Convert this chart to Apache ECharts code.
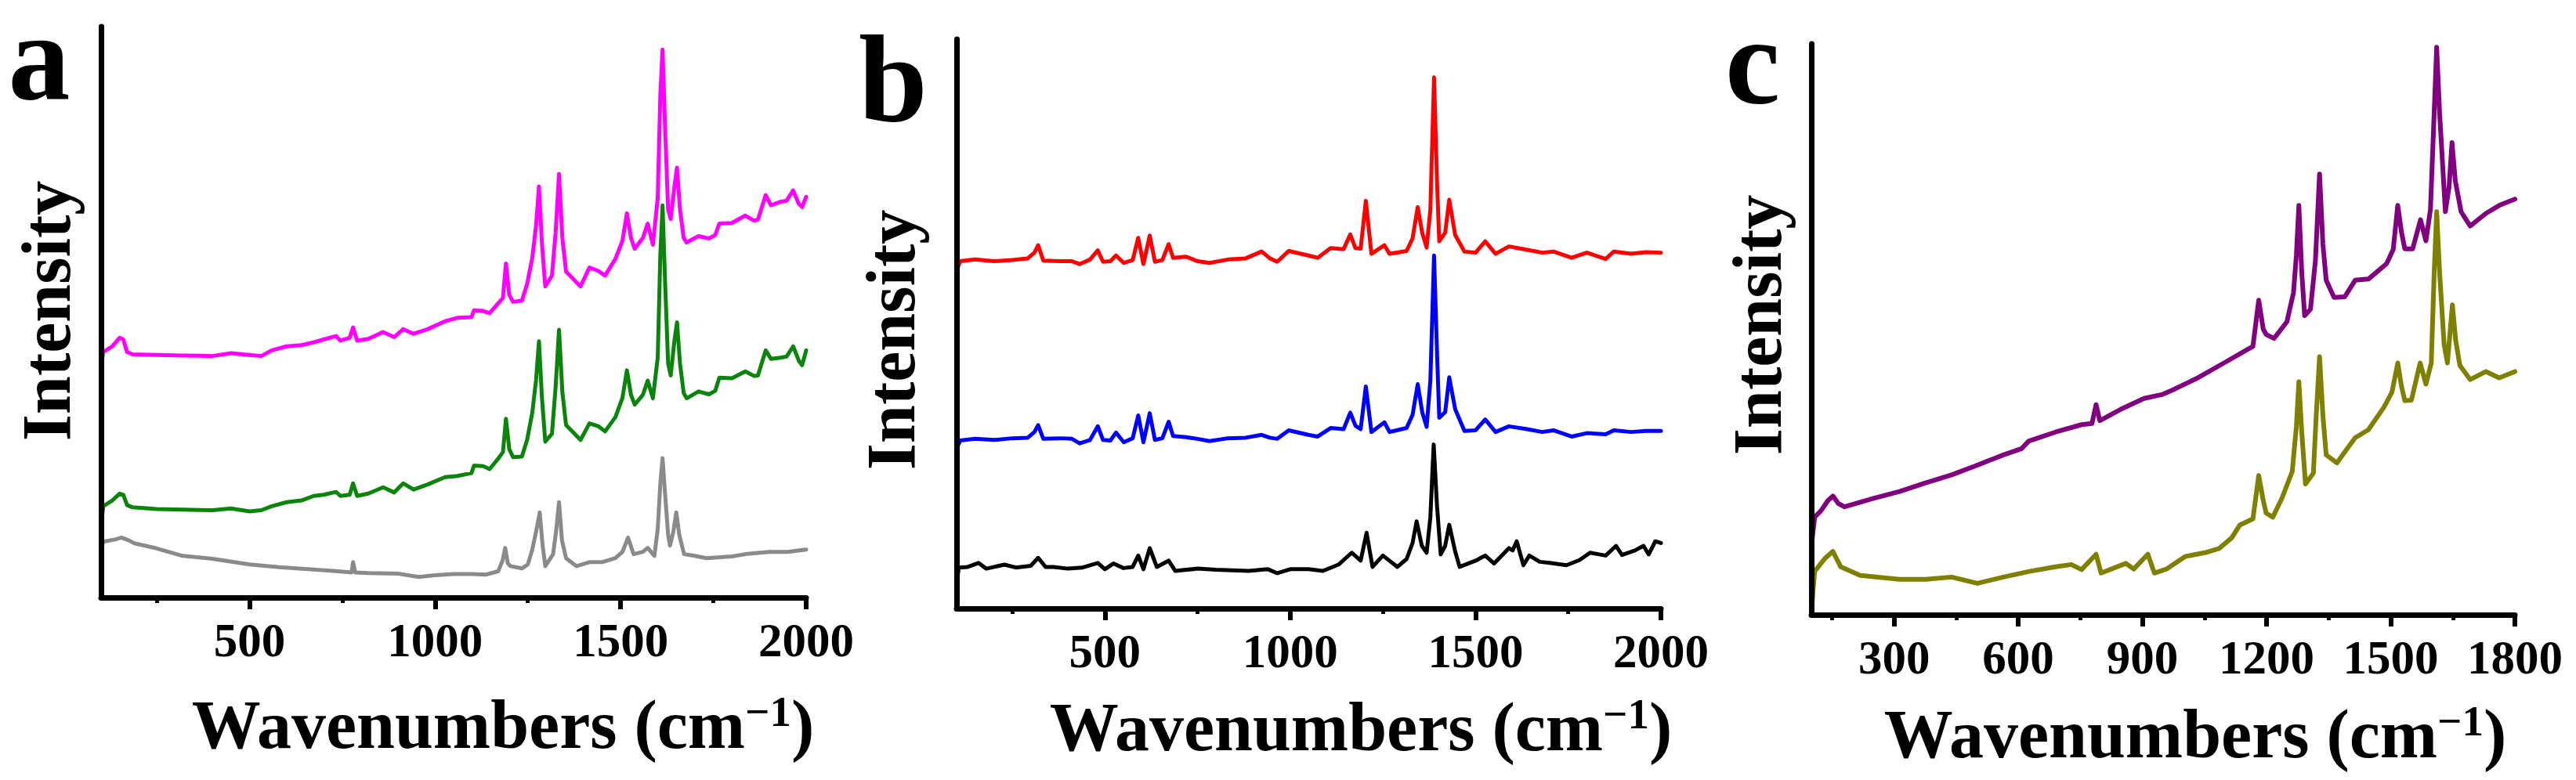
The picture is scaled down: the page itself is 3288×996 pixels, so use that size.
<!DOCTYPE html>
<html><head><meta charset="utf-8">
<script src="https://cdn.jsdelivr.net/npm/echarts@6/dist/echarts.min.js"></script>
<style>html,body{margin:0;padding:0;background:#fff}#c{width:3288px;height:996px}</style>
</head><body><div id="c"></div>
<script>
// ---------- Panel a ----------
const aX = [100,106,130,150,160,170,185,250,320,400,450,500,532,560,600,640,673,700,733,745,770,779,790,820,860,890,914,942,980,1027,1060,1098,1105,1130,1147,1171,1183,1191,1200,1210,1234,1248,1262,1272,1280,1288,1297,1315,1325,1334,1343,1353,1392,1416,1440,1458,1486,1505,1517,1528,1538,1560,1573,1587,1600,1607,1613,1620,1628,1635,1645,1652,1660,1670,1678,1710,1738,1755,1766,1800,1836,1860,1870,1891,1905,1930,1947,1965,1980,1989,2000];
const aMagenta = [40.4,43.0,44.0,45.5,45.2,43.0,42.6,42.5,42.4,42.3,42.8,42.5,42.3,43.3,44.0,44.2,44.7,45.2,45.8,45.0,45.5,47.3,45.0,45.3,46.5,45.6,47.0,46.2,47.0,48.4,49.0,49.1,50.3,50.2,49.8,51.6,52.5,58.5,53.0,51.8,52.0,54.9,59.5,65.0,72.0,62.0,54.5,56.4,64.0,74.2,63.0,57.1,54.5,57.8,57.2,56.4,59.3,62.5,67.3,63.0,61.1,63.0,65.5,61.8,70.0,88.0,96.0,82.0,68.0,66.3,72.0,75.3,68.0,63.0,62.2,63.3,62.9,63.5,65.5,65.6,66.9,66.0,66.2,70.5,68.7,69.3,69.5,71.3,69.0,68.4,70.2];
const aGreen = [12.7,16.0,17.0,18.2,18.0,16.2,15.8,15.5,15.4,15.3,15.6,15.1,15.3,16.0,16.7,17.0,17.8,18.0,18.5,17.8,18.0,20.0,17.8,18.2,19.3,18.4,20.0,18.9,19.8,21.1,21.3,21.8,23.1,23.0,22.5,24.4,25.5,31.3,26.0,24.6,24.7,27.6,32.4,38.0,44.9,35.0,27.3,28.7,37.0,46.9,36.0,30.2,27.6,30.5,30.0,29.1,31.6,35.0,39.8,35.5,33.8,35.5,38.0,34.9,42.0,60.0,68.7,55.0,41.0,38.9,45.0,48.2,41.0,35.8,34.9,36.1,35.6,36.2,38.5,38.4,39.6,38.8,38.9,43.3,41.8,42.0,42.2,44.0,41.5,40.7,43.3];
const aGrayX = [100,108,140,155,175,190,250,320,400,500,580,673,740,775,779,785,820,900,956,1000,1050,1098,1136,1170,1182,1189,1196,1203,1234,1250,1262,1272,1282,1290,1297,1318,1326,1334,1342,1353,1381,1416,1450,1486,1505,1520,1535,1560,1573,1591,1600,1607,1613,1620,1628,1633,1642,1650,1658,1671,1700,1731,1800,1836,1900,1950,2000];
const aGray = [9.1,9.8,10.2,10.5,10.0,9.5,8.6,7.3,6.8,5.8,5.3,4.9,4.6,4.4,6.2,4.4,4.3,4.2,3.6,3.9,4.1,4.1,4.0,4.6,6.5,8.7,6.0,5.5,5.1,5.8,8.4,11.5,14.9,9.0,5.5,7.6,11.5,16.7,10.0,6.9,5.5,6.2,6.2,6.9,8.0,10.5,7.6,8.0,8.7,7.3,12.0,20.0,24.4,18.0,11.0,9.1,11.5,14.9,11.0,7.6,7.3,6.9,7.2,7.6,8.0,8.0,8.4];

// ---------- Panel b ----------
const bX = [100,110,150,200,250,292,310,320,334,380,411,432,460,481,495,515,530,551,575,590,604,621,635,655,672,684,719,750,782,832,880,923,945,965,996,1049,1074,1109,1144,1162,1176,1190,1204,1219,1254,1268,1314,1330,1344,1356,1368,1378,1388,1396,1402,1418,1429,1445,1470,1500,1526,1554,1590,1639,1680,1710,1759,1800,1851,1873,1920,1960,2000];
const bRed = [59.4,61.0,61.3,61.0,61.2,61.5,62.5,63.8,61.1,61.0,61.0,60.5,61.3,62.9,60.9,61.0,62.0,60.7,61.2,65.1,60.5,65.5,60.9,61.2,64.0,61.6,61.8,61.0,60.7,61.3,61.5,62.7,61.5,60.9,62.8,62.0,61.6,63.3,63.1,65.7,63.3,63.2,71.6,62.3,63.8,62.3,62.8,65.0,70.5,66.0,63.4,70.0,93.3,75.0,64.5,66.0,71.8,65.6,62.7,62.5,64.5,62.3,63.6,63.0,62.5,62.7,61.6,62.5,61.4,62.7,62.3,62.6,62.5];
const bBlue = [28.1,29.5,29.8,29.6,29.9,30.0,31.0,32.2,29.8,29.9,29.8,29.0,29.6,32.0,29.6,29.5,30.9,29.2,29.9,33.9,29.2,34.3,29.6,29.9,32.8,30.3,30.1,29.8,29.4,29.9,30.0,30.5,30.0,29.8,31.3,30.5,30.2,31.7,31.5,34.4,32.1,31.5,39.0,31.0,32.7,31.0,31.7,34.0,39.4,34.5,31.9,40.0,62.0,45.0,33.5,34.5,40.6,35.0,31.2,31.3,33.2,31.0,32.0,31.5,31.0,31.3,30.2,30.8,30.6,31.3,31.0,31.2,31.2];
const bBlackX = [100,106,130,159,180,229,260,300,320,340,362,400,440,481,500,523,550,575,590,604,621,640,672,690,750,800,888,940,965,1000,1049,1088,1130,1166,1190,1206,1222,1250,1289,1314,1330,1341,1355,1368,1378,1387,1396,1406,1418,1429,1445,1457,1500,1526,1550,1590,1600,1611,1629,1645,1673,1700,1745,1780,1809,1851,1879,1895,1930,1953,1967,1985,2000];
const bBlack = [4.5,7.2,7.3,8.0,7.0,7.7,7.2,7.5,8.9,7.3,7.3,7.0,7.2,8.0,6.9,7.9,7.1,7.3,9.3,6.9,10.6,7.3,8.4,6.6,7.0,6.8,6.6,6.9,6.2,6.9,6.9,6.6,7.7,9.8,8.4,13.3,7.3,9.3,7.3,8.7,11.5,15.3,11.0,9.8,16.0,28.8,18.0,9.5,11.0,14.7,10.0,7.3,8.4,9.3,7.9,10.6,10.2,11.8,7.6,9.3,8.2,8.0,7.6,8.5,9.8,9.3,11.0,9.4,10.2,11.0,9.5,11.8,11.5];

// ---------- Panel c ----------
const cPurpleX = [100,108,123,140,152,165,180,250,313,376,439,501,564,608,625,633,690,753,778,788,797,848,904,949,971,1034,1097,1150,1167,1181,1192,1199,1218,1249,1265,1272,1278,1285,1292,1306,1318,1328,1336,1344,1363,1389,1414,1446,1490,1506,1517,1526,1534,1553,1572,1585,1596,1605,1611,1618,1632,1641,1648,1656,1670,1692,1730,1762,1800];
const cPurple = [12.0,17.1,18.2,20.0,20.8,19.5,18.9,20.4,21.6,23.1,24.5,26.2,28.0,29.1,30.4,30.6,32.0,33.3,33.5,36.8,34.0,36.0,37.9,38.6,39.3,41.5,44.1,46.3,47.0,55.1,50.0,49.1,48.4,51.3,56.4,63.0,71.7,60.0,52.4,53.5,62.0,77.2,65.0,58.6,55.6,55.7,58.6,58.8,61.5,64.0,71.7,67.0,64.1,64.1,69.2,65.5,71.0,88.0,99.4,88.0,70.6,75.0,82.7,76.0,70.6,68.1,70.3,71.7,72.8];
const cOliveX = [100,108,132,152,171,218,313,376,439,501,564,627,690,728,753,788,800,860,879,913,929,958,1003,1053,1085,1116,1135,1167,1181,1192,1199,1215,1237,1262,1272,1278,1285,1294,1313,1320,1328,1336,1344,1370,1395,1414,1446,1484,1503,1517,1526,1534,1550,1571,1585,1598,1605,1611,1618,1629,1637,1649,1657,1667,1692,1730,1762,1800];
const cOlive = [0.5,7.6,9.8,11.1,8.4,6.9,6.2,6.2,6.6,5.5,6.6,7.6,8.4,8.8,7.9,10.6,7.3,9.0,8.0,10.6,7.3,8.0,10.2,10.9,11.6,13.5,15.7,16.8,24.4,20.0,17.8,17.1,20.4,25.1,33.0,40.8,32.0,22.9,24.8,35.0,45.2,35.0,28.0,26.6,29.1,31.0,32.4,36.4,39.0,44.1,40.0,37.5,37.6,44.1,40.4,44.1,60.0,70.6,60.0,47.3,44.1,54.3,48.0,43.7,41.2,42.6,41.5,42.6];

// ---------- Ticks & labels ----------
const majorAB = [500,1000,1500,2000];
const minorAB = [250,750,1250,1750];
const majorC = [300,600,900,1200,1500,1800];
const minorC = [150,450,750,1050,1350,1650];
const panelLetters = ['a','b','c'];
const yTitle = 'Intensity';
const xTitleMain = 'Wavenumbers (cm';
const xTitleSup = '\u22121';

const FONT = '"Liberation Serif","Times New Roman",serif';
const chart = echarts.init(document.getElementById('c'), null, {renderer:'svg'});

const grids = [
  {left:129, top:34, width:900, height:729},
  {left:1221, top:50, width:899, height:727},
  {left:2312, top:56, width:898, height:729}
];
const xMax = [2000,2000,1800];
const majors = [majorAB, majorAB, majorC];
const minors = [minorAB, minorAB, minorC];

function pairs(xs, ys){ return xs.map((x,i)=>[x, ys[i]]); }

const xAxes = [], yAxes = [];
for (let i=0;i<3;i++){
  xAxes.push({gridIndex:i, type:'value', min:100, max:xMax[i], position:'bottom', z:5,
    axisLine:{show:true, onZero:false, lineStyle:{color:'#000', width:7}},
    axisTick:{show:true, customValues:majors[i], length:15, lineStyle:{color:'#000', width:6}},
    axisLabel:{show:true, customValues:majors[i], margin:24, color:'#000', fontFamily:FONT, fontWeight:'bold', fontSize:61,
      formatter:function(v){ return String(Math.round(v)); }},
    splitLine:{show:false}});
  yAxes.push({gridIndex:i, type:'value', min:0, max:100, z:5,
    axisLine:{show:true, onZero:false, lineStyle:{color:'#000', width:7}},
    axisTick:{show:false}, axisLabel:{show:false}, splitLine:{show:false}});
}
for (let i=0;i<3;i++){
  xAxes.push({gridIndex:i, type:'value', min:100, max:xMax[i], position:'bottom',
    axisLine:{show:false, onZero:false},
    axisTick:{show:true, customValues:minors[i], length:7, lineStyle:{color:'#000', width:5}},
    axisLabel:{show:false}, splitLine:{show:false}});
}

function line(xi, data, color, w){
  return {type:'line', xAxisIndex:xi, yAxisIndex:xi, data:data, showSymbol:false, symbol:'none',
    lineStyle:{color:color, width:w, join:'round', cap:'round'}, itemStyle:{color:color}, silent:true, animation:false};
}

const series = [
  line(0, pairs(aX, aMagenta), '#ff00ff', 5),
  line(0, pairs(aX, aGreen), '#0a840a', 5),
  line(0, pairs(aGrayX, aGray), '#8a8a8a', 5),
  line(1, pairs(bX, bRed), '#ff0000', 5),
  line(1, pairs(bX, bBlue), '#0000ff', 5),
  line(1, pairs(bBlackX, bBlack), '#000000', 5),
  line(2, pairs(cPurpleX, cPurple), '#800080', 6),
  line(2, pairs(cOliveX, cOlive), '#808000', 6)
];

// panel letters: centre of each glyph
const letterPos = [[50,72],[1140,100],[2237,78]];
const yTitlePos = [[59,397],[1137,434],[2243,415]];
const xTitlePos = [[642,925],[1737,928],[2802,937]];
const graphic = [];
for (let i=0;i<3;i++){
  graphic.push({type:'text', x:letterPos[i][0], y:letterPos[i][1], silent:true,
    style:{text:panelLetters[i], fill:'#000', font:'bold 158px '+FONT, lineHeight:120, textAlign:'center', textVerticalAlign:'middle'}});
  graphic.push({type:'text', x:yTitlePos[i][0], y:yTitlePos[i][1], rotation:Math.PI/2, silent:true,
    style:{text:yTitle, fill:'#000', font:'bold 88px '+FONT, textAlign:'center', textVerticalAlign:'middle'}});
  graphic.push({type:'text', x:xTitlePos[i][0], y:xTitlePos[i][1], silent:true,
    style:{text:'{n|'+xTitleMain+'}{s|'+xTitleSup+'}{n|)}', fill:'#000', textAlign:'center', textVerticalAlign:'middle',
      rich:{n:{fontFamily:FONT, fontWeight:'bold', fontSize:88, fill:'#000', verticalAlign:'bottom'},
            s:{fontFamily:FONT, fontWeight:'bold', fontSize:55, fill:'#000', verticalAlign:'top'}}}});
}

chart.setOption({
  animation:false,
  backgroundColor:'#fff',
  grid: grids.map(g=>Object.assign({containLabel:false}, g)),
  xAxis: xAxes,
  yAxis: yAxes,
  series: series,
  graphic: graphic
});
</script>
</body></html>
